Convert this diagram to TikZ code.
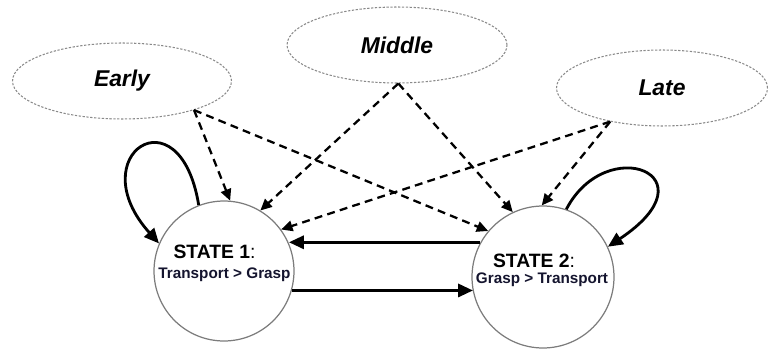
\documentclass[tikz,border=0pt]{standalone}
\usepackage{fontspec}
\setmainfont{Liberation Sans}
\usetikzlibrary{arrows.meta,shapes.geometric}
\definecolor{navytxt}{HTML}{14142E}
\definecolor{rimgray}{HTML}{8A8A8A}
\begin{document}
\begin{tikzpicture}[x=0.02cm,y=-0.02cm,
  phase/.style={ellipse, draw=rimgray, line width=0.6pt, dash pattern=on 1.3pt off 0.9pt,
    inner sep=0pt, minimum height=1.52cm, font=\bfseries\itshape\fontsize{13}{15}\selectfont},
  state/.style={circle, draw=rimgray!90!black, line width=0.7pt, inner sep=0pt},
  headtxt/.style={anchor=base, inner sep=0pt, font=\fontsize{11}{13}\selectfont},
  subtxt/.style={anchor=base, inner sep=0pt, text=navytxt, font=\bfseries\fontsize{8.7}{10}\selectfont},
  strong/.style={line width=1.6pt, -{Triangle[length=8.5pt,width=7.5pt]}},
  influence/.style={line width=1.3pt, dash pattern=on 4.5pt off 3pt, -{Triangle[length=6.5pt,width=6pt]}}
]
\useasboundingbox (0,0) rectangle (770,348);

\node[phase, minimum width=4.38cm] (early) at (122,81) {Early};
\node[phase, minimum width=4.4cm] (middle) at (397,45) {Middle};
\node[phase, minimum width=4.22cm] (late) at (662,88) {Late};

\node[state, minimum size=2.8cm] (s1) at (224,271) {};
\node[state, minimum size=2.84cm] (s2) at (543,277) {};

\node[headtxt] (t1a) at (214.5,258) {\textbf{STATE 1}:};
\node[subtxt] (t1b) at (224.5,278) {Transport > Grasp};
\node[headtxt] (t2a) at (534,267) {\textbf{STATE 2}:};
\node[subtxt] (t2b) at (542,283) {Grasp > Transport};

% dashed influences
\draw[influence] (early.-22) -- (s1.85);
\draw[influence] (early.-22) -- (s2.140);
\draw[influence] (middle.-88) -- (s1.59);
\draw[influence] (middle.-88) -- (s2.115);
\draw[influence] (late.-147) -- (s1.36);
\draw[influence] (late.-147) -- (s2.91);

% transitions (horizontal)
\draw[strong] (s2.151.4) -- (s2.151.4 -| s1.23.6);
\draw[strong] (s1.-16.6) -- (s1.-16.6 -| s2.-168.6);

% self loops
\draw[strong] (s1.111) .. controls +(-19,-116) and +(-79,-88) .. (s1.157);
\draw[strong] (s2.71.6) .. controls +(40,-77) and +(108,-72) .. (s2.25.8);
\end{tikzpicture}
\end{document}
